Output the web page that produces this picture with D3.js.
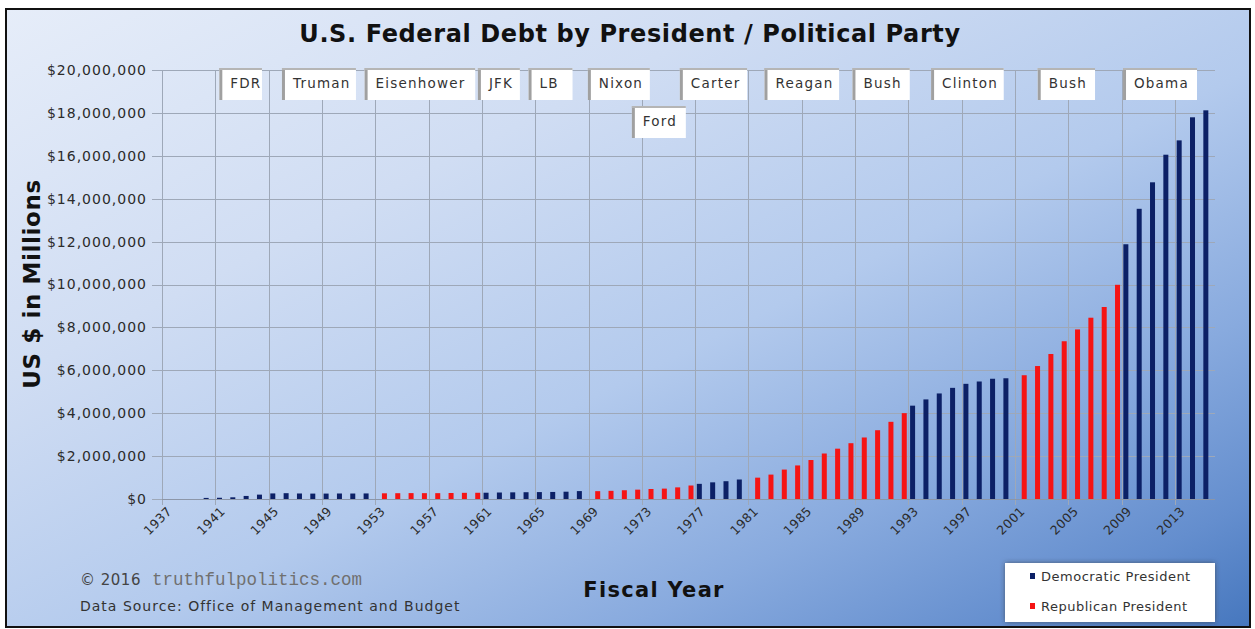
<!DOCTYPE html>
<html>
<head>
<meta charset="utf-8">
<script src="https://cdn.jsdelivr.net/npm/d3@7"></script>
<style>
  body { margin: 0; background: #fff; }
  svg { display: block; font-family: "DejaVu Sans", Verdana, sans-serif; }
</style>
</head>
<body>
<div id="chart"></div>
<script>
//---- size of the page -----/
var width = 1255
var height = 629
//---------------------------//

//------------------ data ------------------//
var years = d3.range(1937, 2016);               // categories on the x axis
var tickYears = years.filter(function(d){ return (d - 1937) % 4 === 0; });

var firstDataYear = 1940;
// gross federal debt, millions of dollars, 1940 .. 2015
var debt = [50696, 57531, 79200, 142648, 204079, 260123, 270991, 257149, 252031, 252610,
            256853, 255288, 259097, 265963, 270812, 274366, 272693, 272252, 279666, 287465,
            290525, 292648, 302928, 310324, 316059, 322318, 328498, 340445, 368685, 365769,
            380921, 408176, 435936, 466291, 483893, 541925, 628970, 706398, 776602, 829467,
            909041, 994828, 1137315, 1371660, 1564586, 1817423, 2120501, 2345956, 2601104, 2867800,
            3206290, 3598178, 4001787, 4351044, 4643307, 4920586, 5181465, 5369206, 5478189, 5605523,
            5628700, 5769881, 6198401, 6760014, 7354657, 7905300, 8451350, 8950744, 9986082, 11875851,
            13528807, 14764222, 16050921, 16719434, 17794483, 18120106];

// which party held the White House
var terms = [
  {party: 'D', from: 1940, to: 1952},
  {party: 'R', from: 1953, to: 1960},
  {party: 'D', from: 1961, to: 1968},
  {party: 'R', from: 1969, to: 1976},
  {party: 'D', from: 1977, to: 1980},
  {party: 'R', from: 1981, to: 1992},
  {party: 'D', from: 1993, to: 2000},
  {party: 'R', from: 2001, to: 2008},
  {party: 'D', from: 2009, to: 2015}
];
var parties = ['D', 'R'];
var partyNames = ['Democratic President', 'Republican President'];

// president name tags, spans given in fiscal years
var presidents = ['FDR', 'Truman', 'Eisenhower', 'JFK', 'LB', 'Nixon', 'Ford', 'Carter',
                  'Reagan', 'Bush', 'Clinton', 'Bush', 'Obama'];
var tagFrom = [1941.3, 1946.0, 1952.2, 1960.7, 1964.5, 1968.95, 1972.25, 1975.85,
               1982.2, 1988.8, 1994.7, 2002.7, 2009.1];
var tagTo   = [1944.5, 1951.55, 1960.5, 1963.85, 1967.8, 1973.6, 1976.3, 1980.9,
               1987.8, 1993.1, 2000.15, 2007.0, 2014.65];
var tagRow  = [0, 0, 0, 0, 0, 0, 1, 0, 0, 0, 0, 0, 0];

var yTicks = d3.range(0, 20000001, 2000000);
//------------------------------------------//

function partyOf(year){
  var t = terms.find(function(t){ return year >= t.from && year <= t.to; });
  return t ? t.party : null;
}

var bars = debt.map(function(v, i){
  var yr = firstDataYear + i;
  return {year: yr, value: v, party: partyOf(yr)};
});

//---------------- svg + background ----------------//
var svg = d3.select('#chart').append('svg')
            .attr('width', width)
            .attr('height', height);

var defs = svg.append('defs');
var grad = defs.append('linearGradient')
    .attr('id', 'bg')
    .attr('x1', '0').attr('y1', '0')
    .attr('x2', '1').attr('y2', '1');
grad.append('stop').attr('offset', '0').attr('stop-color', '#e6edf9');
grad.append('stop').attr('offset', '0.3').attr('stop-color', '#d0ddf3');
grad.append('stop').attr('offset', '0.55').attr('stop-color', '#b3caed');
grad.append('stop').attr('offset', '0.75').attr('stop-color', '#88aade');
grad.append('stop').attr('offset', '0.9').attr('stop-color', '#648ece');
grad.append('stop').attr('offset', '1').attr('stop-color', '#4677be');

var shadow = defs.append('filter').attr('id', 'shadow')
    .attr('x', '-10%').attr('y', '-20%').attr('width', '120%').attr('height', '140%');
shadow.append('feDropShadow')
    .attr('dx', 0).attr('dy', 0).attr('stdDeviation', 2.5)
    .attr('flood-color', '#333').attr('flood-opacity', 0.6);

svg.append('rect')
   .attr('x', 6).attr('y', 9)
   .attr('width', 1244).attr('height', 618)
   .attr('fill', 'url(#bg)')
   .attr('stroke', '#111')
   .attr('stroke-width', 2);

//---------------- scales ----------------//
var plotLeft = 162, plotRight = 1215, plotTop = 70, plotBottom = 499;

var x = d3.scaleBand()
          .domain(years)
          .range([plotLeft, plotRight]);

var xParty = d3.scaleBand()
          .domain(parties)
          .range([0, x.bandwidth()])
          .paddingOuter(0.333);

var y = d3.scaleLinear()
          .domain([0, 20000000])
          .range([plotBottom, plotTop]);

var color = d3.scaleOrdinal().domain(parties).range(['#0c2066', '#f51414']);

//---------------- grid ----------------//
var grid = svg.append('g').attr('class', 'grid');

grid.selectAll('.hgrid')
    .data(yTicks)
    .enter().append('line')
    .attr('x1', plotLeft - 10).attr('x2', plotRight)
    .attr('y1', function(d){ return Math.round(y(d)) + 0.5; })
    .attr('y2', function(d){ return Math.round(y(d)) + 0.5; })
    .attr('stroke', '#9ea8b8')
    .attr('stroke-width', 1);

grid.selectAll('.vgrid')
    .data(tickYears)
    .enter().append('line')
    .attr('x1', function(d){ return Math.round(x(d)) + 0.5; })
    .attr('x2', function(d){ return Math.round(x(d)) + 0.5; })
    .attr('y1', plotTop)
    .attr('y2', plotBottom + 6)
    .attr('stroke', '#9ea8b8')
    .attr('stroke-width', 1);

//---------------- axes ----------------//
var yAxis = svg.append('g')
    .attr('transform', 'translate(' + plotLeft + ',0)')
    .call(d3.axisLeft(y)
            .tickValues(yTicks)
            .tickSize(0)
            .tickPadding(15)
            .tickFormat(function(d){ return '$' + d3.format(',')(d); }));
yAxis.attr('font-family', null);
yAxis.select('.domain').remove();
yAxis.selectAll('text')
    .attr('font-size', 14)
    .attr('letter-spacing', 1)
    .attr('fill', '#2b2b2b');

var xAxis = svg.append('g')
    .attr('transform', 'translate(0,' + plotBottom + ')')
    .call(d3.axisBottom(x).tickValues(tickYears).tickSize(0).tickPadding(0));
xAxis.attr('font-family', null);
xAxis.select('.domain').remove();
xAxis.selectAll('text')
    .attr('font-size', 12.5)
    .attr('letter-spacing', 0.4)
    .attr('fill', '#2b2b2b')
    .attr('text-anchor', 'end')
    .attr('dy', null)
    .attr('y', 0)
    .attr('transform', 'translate(4,13) rotate(-45)');

//---------------- bars ----------------//
svg.append('g').selectAll('.bar')
    .data(bars)
    .enter().append('rect')
    .attr('class', 'bar')
    .attr('x', function(d){ return x(d.year) + xParty(d.party); })
    .attr('width', xParty.bandwidth())
    .attr('y', function(d){ return y(d.value); })
    .attr('height', function(d){ return plotBottom - y(d.value); })
    .attr('fill', function(d){ return color(d.party); });

// x axis base line
svg.append('line')
   .attr('x1', plotLeft).attr('x2', plotRight)
   .attr('y1', plotBottom + 0.5).attr('y2', plotBottom + 0.5)
   .attr('stroke', '#8c96a8');

//---------------- president tags ----------------//
function xPos(yr){
  // fractional fiscal year -> pixel, through the band scale
  var base = Math.floor(yr);
  return x(base) + (yr - base) * x.step();
}

var tags = svg.append('g').selectAll('.tag')
    .data(presidents)
    .enter().append('g')
    .attr('class', 'tag')
    .attr('transform', function(d, i){
        return 'translate(0,' + (tagRow[i] === 0 ? 68 : 106) + ')';
    });

tags.append('rect')
    .attr('x', function(d, i){ return xPos(tagFrom[i]); })
    .attr('width', function(d, i){ return xPos(tagTo[i]) - xPos(tagFrom[i]); })
    .attr('y', 0).attr('height', 32)
    .attr('fill', '#fff');
// shaded left and top edges
tags.append('rect')
    .attr('x', function(d, i){ return xPos(tagFrom[i]); })
    .attr('width', 3)
    .attr('y', 0).attr('height', 32)
    .attr('fill', '#a0a0a0');
tags.append('rect')
    .attr('x', function(d, i){ return xPos(tagFrom[i]); })
    .attr('width', function(d, i){ return xPos(tagTo[i]) - xPos(tagFrom[i]); })
    .attr('y', 0).attr('height', 2)
    .attr('fill', '#b5b5b5');
tags.append('text')
    .attr('x', function(d, i){ return xPos(tagFrom[i]) + 11; })
    .attr('y', 20)
    .attr('font-size', 13.5)
    .attr('letter-spacing', 1.2)
    .attr('fill', '#333')
    .text(function(d){ return d; });

//---------------- titles ----------------//
svg.append('text')
   .attr('x', 630).attr('y', 42)
   .attr('text-anchor', 'middle')
   .attr('font-size', 24).attr('font-weight', 'bold')
   .attr('letter-spacing', 0.6)
   .attr('fill', '#111')
   .text('U.S. Federal Debt by President / Political Party');

svg.append('text')
   .attr('transform', 'translate(40,284) rotate(-90)')
   .attr('text-anchor', 'middle')
   .attr('font-size', 23).attr('font-weight', 'bold')
   .attr('letter-spacing', 0.6)
   .attr('fill', '#111')
   .text('US $ in Millions');

svg.append('text')
   .attr('x', 654).attr('y', 597)
   .attr('text-anchor', 'middle')
   .attr('font-size', 21).attr('font-weight', 'bold')
   .attr('letter-spacing', 1.3)
   .attr('fill', '#111')
   .text('Fiscal Year');

var credit = svg.append('g');
credit.append('text')
   .attr('x', 80).attr('y', 585)
   .attr('font-size', 15)
   .attr('letter-spacing', 0.5)
   .attr('fill', '#444')
   .text('© 2016');
credit.append('text')
   .attr('x', 152).attr('y', 585)
   .style('font-family', '"Liberation Mono", "DejaVu Sans Mono", monospace')
   .attr('font-size', 17.5)
   .attr('fill', '#707070')
   .text('truthfulpolitics.com');

svg.append('text')
   .attr('x', 80).attr('y', 611)
   .attr('font-size', 14)
   .attr('letter-spacing', 1)
   .attr('fill', '#333')
   .text('Data Source:  Office of Management and Budget');

//---------------- legend ----------------//
var legend = svg.append('g').attr('transform', 'translate(1005,563)');
legend.append('rect')
   .attr('width', 210).attr('height', 59)
   .attr('fill', '#fff')
   .attr('filter', 'url(#shadow)');

var items = legend.selectAll('.item')
   .data(parties)
   .enter().append('g')
   .attr('transform', function(d, i){ return 'translate(0,' + (i * 30) + ')'; });
items.append('rect')
   .attr('x', 25).attr('y', 10)
   .attr('width', 5).attr('height', 6)
   .attr('fill', function(d){ return color(d); });
items.append('text')
   .attr('x', 36).attr('y', 17.5)
   .attr('font-size', 13)
   .attr('letter-spacing', 0.5)
   .attr('fill', '#333')
   .text(function(d, i){ return partyNames[i]; });
</script>
</body>
</html>
